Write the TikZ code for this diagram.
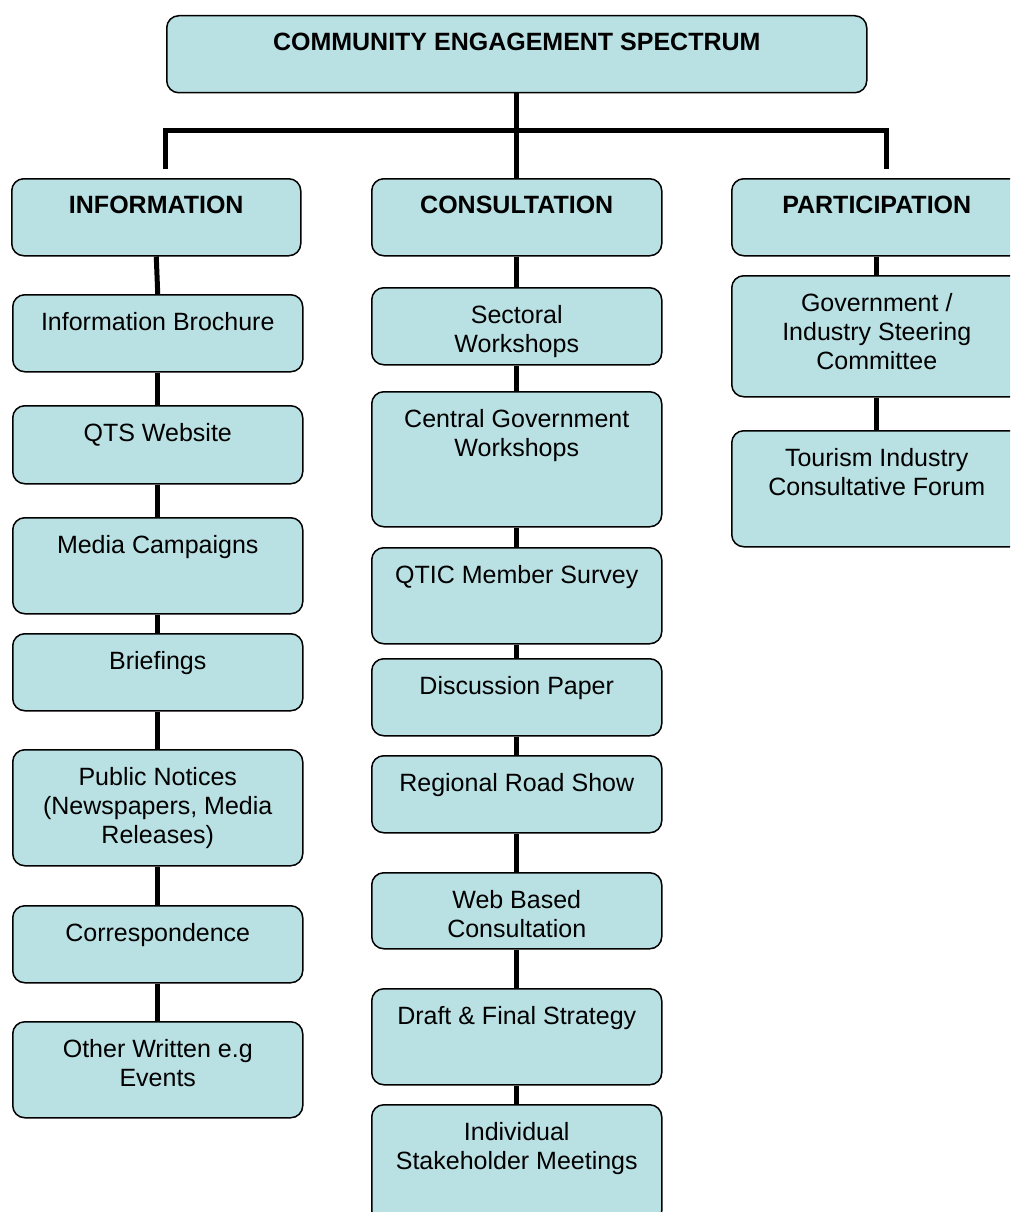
\documentclass[tikz,border=0pt]{standalone}
\usepackage{fontspec}
\setmainfont{Liberation Sans}
\definecolor{boxfill}{RGB}{185,224,227}
\tikzset{
  box/.style={draw=black, line width=1.5pt, fill=boxfill, rounded corners=12pt, inner sep=0pt, anchor=north west},
  lbl/.style={font=\fontsize{25}{29}\selectfont, align=center, inner sep=0pt, anchor=north},
  hlbl/.style={font=\fontsize{25}{29}\selectfont\bfseries, align=center, inner sep=0pt, anchor=north},
  link/.style={line width=5pt, draw=black},
}
\newcommand{\bx}[7]{%
  \node[box, minimum width=#4pt-#2pt, minimum height=#5pt-#3pt] (#1) at (#2,#3) {};
  \node[#6] (#1-t) at ([yshift=-18pt]#1.north) {#7};
}
\begin{document}
\begin{tikzpicture}[x=1pt,y=-1pt]
\useasboundingbox (0,0) rectangle (1010,1212);
\clip (0,0) rectangle (1010,1212);
% top
\bx{top}{166}{15}{866}{92}{hlbl}{COMMUNITY ENGAGEMENT SPECTRUM}
% headers
\bx{info}{11}{178}{300}{255}{hlbl}{INFORMATION}
\bx{cons}{371}{178}{661}{255}{hlbl}{CONSULTATION}
\bx{part}{731}{178}{1021}{255}{hlbl}{PARTICIPATION}
% information column
\bx{i1}{12}{294}{302}{371}{lbl}{Information Brochure}
\bx{i2}{12}{405}{302}{483}{lbl}{QTS Website}
\bx{i3}{12}{517}{302}{613}{lbl}{Media Campaigns}
\bx{i4}{12}{633}{302}{710}{lbl}{Briefings}
\bx{i5}{12}{749}{302}{865}{lbl}{Public Notices\\(Newspapers, Media\\Releases)}
\bx{i6}{12}{905}{302}{982}{lbl}{Correspondence}
\bx{i7}{12}{1021}{302}{1117}{lbl}{Other Written e.g\\Events}
% consultation column
\bx{c1}{371}{287}{661}{364}{lbl}{Sectoral\\Workshops}
\bx{c2}{371}{391}{661}{526}{lbl}{Central Government\\Workshops}
\bx{c3}{371}{547}{661}{643}{lbl}{QTIC Member Survey}
\bx{c4}{371}{658}{661}{735}{lbl}{Discussion Paper}
\bx{c5}{371}{755}{661}{832}{lbl}{Regional Road Show}
\bx{c6}{371}{872}{661}{948}{lbl}{Web Based\\Consultation}
\bx{c7}{371}{988}{661}{1084}{lbl}{Draft \& Final Strategy}
\bx{c8}{371}{1104}{661}{1222}{lbl}{Individual\\Stakeholder Meetings}
% participation column
\bx{p1}{731}{275}{1021}{396}{lbl}{Government /\\Industry Steering\\Committee}
\bx{p2}{731}{430}{1021}{546}{lbl}{Tourism Industry\\Consultative Forum}
% bracket
\coordinate (dl) at (165,169);
\coordinate (jl) at (165,131);
\coordinate (jr) at (886,131);
\coordinate (dr) at (886,169);
\draw[link] (dl) -- (jl) -- (jr) -- (dr);
\draw[link] (top.south) -- (cons.north);
% column links
\draw[link] (info.south) -- (i1.north);
\foreach \a/\b in {i1/i2,i2/i3,i3/i4,i4/i5,i5/i6,i6/i7,cons/c1,c1/c2,c2/c3,c3/c4,c4/c5,c5/c6,c6/c7,c7/c8,part/p1,p1/p2}
  \draw[link] (\a.south) -- (\b.north);
\end{tikzpicture}
\end{document}
